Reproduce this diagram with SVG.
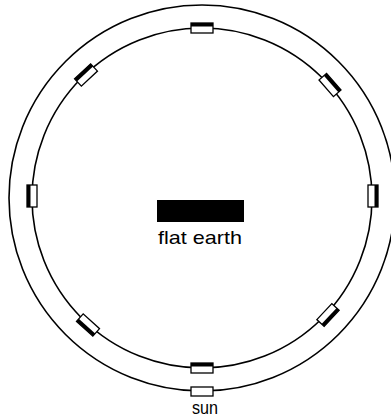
<svg xmlns="http://www.w3.org/2000/svg" width="391" height="417" viewBox="0 0 391 417">
<style>
.ring{fill:none;stroke:#000;stroke-width:1.6}
.box{fill:#fff;stroke:#000;stroke-width:1.3}
.lbl{font-family:"Liberation Sans",Arial,sans-serif;font-size:19px;fill:#000}
</style>
<defs>
<g id="lamp">
<rect class="box" x="-11" y="-5" width="22" height="10"/>
<rect x="-11" y="-5" width="22" height="3.5" fill="#000"/>
</g>
</defs>
<rect width="391" height="417" fill="#fff"/>
<g id="connectors">
<circle class="ring" cx="202" cy="198" r="193"/>
<circle class="ring" cx="202" cy="198" r="170"/>
</g>
<g id="lamp-top"><use href="#lamp" transform="translate(202,28)"/></g>
<g id="lamp-left"><use href="#lamp" transform="translate(32,196) rotate(-90)"/></g>
<g id="lamp-right"><use href="#lamp" transform="translate(373,196) rotate(90)"/></g>
<g id="lamp-tl"><use href="#lamp" transform="translate(86,75) rotate(-43)"/></g>
<g id="lamp-tr"><use href="#lamp" transform="translate(330,85) rotate(49)"/></g>
<g id="lamp-bl"><use href="#lamp" transform="translate(88,325) rotate(-138)"/></g>
<g id="lamp-br"><use href="#lamp" transform="translate(328,315) rotate(133)"/></g>
<g id="lamp-bottom"><use href="#lamp" transform="translate(202,368)"/></g>
<g id="sun">
<rect class="box" x="191" y="387" width="22" height="9"/>
<text class="lbl" x="205" y="414" text-anchor="middle" font-size="21" textLength="26" lengthAdjust="spacingAndGlyphs">sun</text>
</g>
<g id="flat-earth">
<rect x="157" y="200" width="87" height="22" fill="#000"/>
<text class="lbl" x="200" y="244" text-anchor="middle" font-size="20" textLength="84" lengthAdjust="spacingAndGlyphs">flat earth</text>
</g>
</svg>
